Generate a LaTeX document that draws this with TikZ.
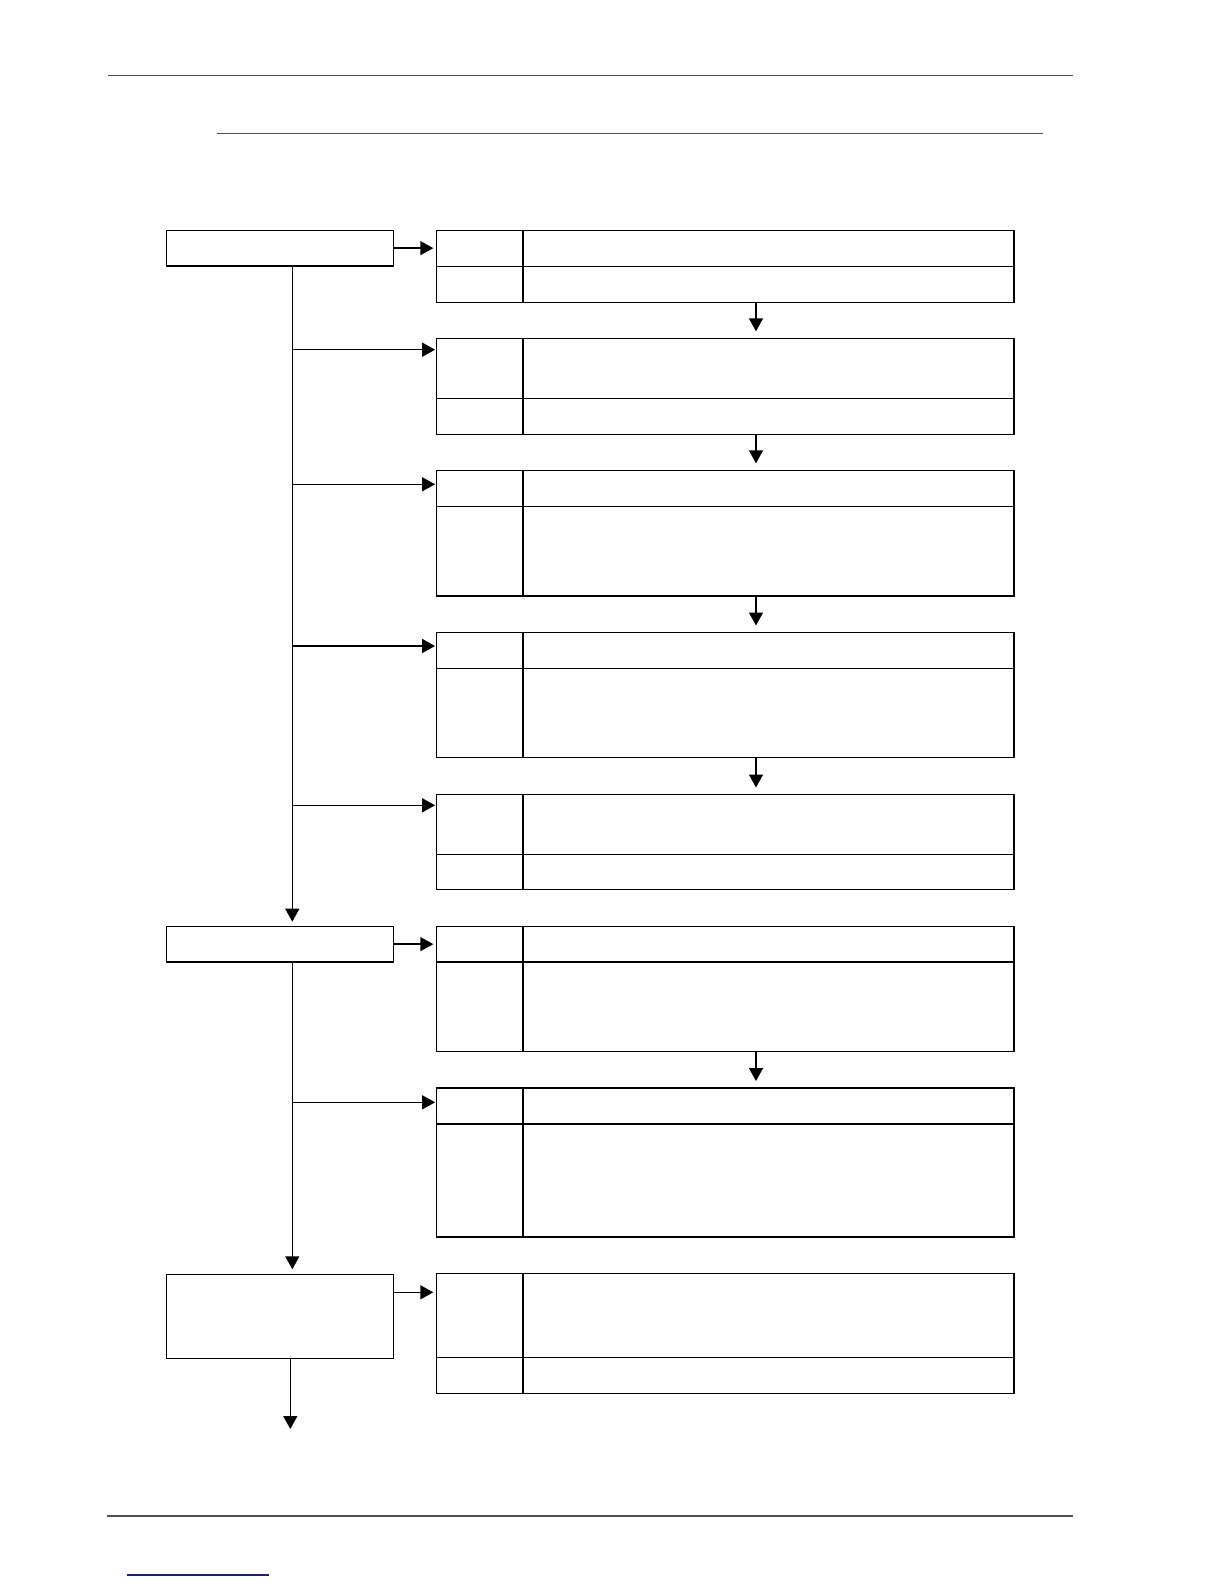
\documentclass[tikz,border=0pt]{standalone}
\usetikzlibrary{arrows.meta,calc}
\definecolor{rulegray}{HTML}{505050}
\definecolor{linkblue}{HTML}{1C1C8C}
\tikzset{
  box/.style={draw, line width=0.7pt, inner sep=0pt, outer sep=0pt, anchor=north west, minimum width=113.5pt},
  tbl/.style={draw, line width=0.7pt, inner sep=0pt, outer sep=0pt, anchor=north west, minimum width=288.8pt},
  cell/.style={line width=0.7pt},
  arr/.style={line width=0.7pt, -{Triangle[length=6.5pt,width=7pt]}},
  hrule/.style={draw=rulegray, line width=0.6pt}
}
\begin{document}
\begin{tikzpicture}[x=0.5pt,y=-0.5pt]
\useasboundingbox (0,0) rectangle (1224,1584);
% page rules
\coordinate (r1a) at (108,75.7); \coordinate (r1b) at (1072.5,75.7);
\coordinate (r2a) at (217,133.3); \coordinate (r2b) at (1043,133.3);
\coordinate (r3a) at (107,1516); \coordinate (r3b) at (1072.5,1516);
\coordinate (l1a) at (126.7,1575); \coordinate (l1b) at (269,1575);
\draw[hrule] (r1a) -- (r1b);
\draw[hrule] (r2a) -- (r2b);
\draw[hrule] (r3a) -- (r3b);
\draw[draw=linkblue, line width=0.6pt] (l1a) -- (l1b);
% left boxes
\node[box, minimum height=17.85pt] (a) at (166.3,230.3) {};
\node[box, minimum height=17.85pt] (b) at (166.3,926.3) {};
\node[box, minimum height=42pt] (c) at (166.3,1274.3) {};
% tables
\foreach \n/\t/\d/\b in {t1/230.3/266.6/302.3, t2/338.3/398.3/434.3, t3/470.3/506.3/595.8,
  t4/632.5/668.3/757.4, t5/794.5/854.4/889.7, t6/926.3/962/1051.3,
  t7/1088/1124/1237.1, t8/1273.5/1357.3/1393.6}{
  \node[tbl, minimum height={(\b-\t)*0.5pt}] (\n) at (436.3,\t) {};
  \coordinate (d\n) at (0,\d);
  \draw[cell] ($(\n.north west)+(86.8,0)$) -- ($(\n.south west)+(86.8,0)$);
  \draw[cell] (\n.west |- d\n) -- (\n.east |- d\n);
}
% arrows between tables
\coordinate (mid) at (756,0);
\foreach \p/\q in {t1/t2, t2/t3, t3/t4, t4/t5, t6/t7}{
  \draw[arr, shorten >=3.5pt] (\p.south -| mid) -- (\q.north -| mid);
}
% trunk
\coordinate (tr) at (292.3,0);
\draw[arr, shorten >=2.3pt] (a.south -| tr) -- (b.north -| tr);
\draw[arr, shorten >=2.5pt] (b.south -| tr) -- (c.north -| tr);
\coordinate (end) at (290.3,1429);
\draw[arr] (c.south -| end) -- (end);
% branch arrows
\coordinate (b2) at (0,349.7);
\coordinate (b3) at (0,484.3);
\coordinate (b4) at (0,646);
\coordinate (b5) at (0,805.3);
\coordinate (b7) at (0,1102.3);
\foreach \k/\n in {b2/t2, b3/t3, b4/t4, b5/t5, b7/t7}{
  \draw[arr, shorten >=0.6pt] (tr |- \k) -- (\n.west |- \k);
}
% box to table arrows
\coordinate (c8) at (0,1292.3);
\draw[arr, shorten >=1.5pt] (a.east) -- (a.east -| t1.west);
\draw[arr, shorten >=1.5pt] (b.east) -- (b.east -| t6.west);
\draw[arr, shorten >=1.5pt] (c.east |- c8) -- (t8.west |- c8);
\end{tikzpicture}
\end{document}
